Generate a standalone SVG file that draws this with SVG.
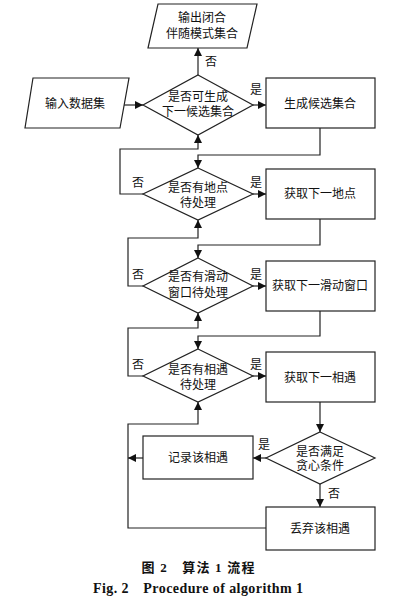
<svg xmlns="http://www.w3.org/2000/svg" width="416" height="606" viewBox="0 0 416 606">
<defs>
<marker id="ah" viewBox="0 0 10 10" refX="10" refY="5" markerWidth="8" markerHeight="8" markerUnits="userSpaceOnUse" orient="auto">
<path d="M0,0 L10,5 L0,10 z" fill="#111"/>
</marker>
<style>
.s{fill:#fff;stroke:#222;stroke-width:1.2}
.c{fill:none;stroke:#222;stroke-width:1.2}
.a{marker-end:url(#ah)}
text{font-family:"Liberation Serif","Noto Sans CJK SC",serif;font-size:12px;fill:#111;text-anchor:middle;dominant-baseline:central}
.lb{font-size:12px}
.cap{font-weight:bold;font-size:13px}
.en{font-size:14px}
</style>
</defs>
<rect width="416" height="606" fill="#fff"/>
<g id="connectors">
<path class="c a" d="M198,75 V48"/>
<path class="c a" d="M124,105 H143"/>
<path class="c a" d="M253,105 H266"/>
<path class="c a" d="M320,128 V155 H198 V168"/>
<path class="c a" d="M143,194 H120 V149 H198 V135"/>
<path class="c a" d="M253,194 H266"/>
<path class="c a" d="M320,219 V245 H198 V258"/>
<path class="c a" d="M143,286 H128 V238 H198 V220"/>
<path class="c a" d="M253,286 H266"/>
<path class="c a" d="M320,311 V336 H198 V349"/>
<path class="c a" d="M143,376 H128 V328 H198 V313"/>
<path class="c a" d="M253,376 H266"/>
<path class="c a" d="M320,402 V432"/>
<path class="c a" d="M266,458 H253"/>
<path class="c a" d="M143,458 H128"/>
<path class="c a" d="M320,484 V507"/>
<path class="c a" d="M266,528 H128 V424 H198 V402"/>
<text class="lb" x="211" y="62">否</text>
<text class="lb" x="256" y="90">是</text>
<text class="lb" x="138" y="183">否</text>
<text class="lb" x="256" y="183">是</text>
<text class="lb" x="138" y="275">否</text>
<text class="lb" x="256" y="275">是</text>
<text class="lb" x="138" y="365">否</text>
<text class="lb" x="256" y="365">是</text>
<text class="lb" x="264" y="445">是</text>
<text class="lb" x="334" y="494">否</text>
</g>
<g id="output">
<polygon class="s" points="158,4 257,4 247,48 148,48"/>
<text x="202" y="18">输出闭合</text>
<text x="202" y="34">伴随模式集合</text>
</g>
<g id="input">
<polygon class="s" points="33,78 129,78 120,128 25,128"/>
<text x="75" y="104">输入数据集</text>
</g>
<g id="d1">
<polygon class="s" points="198,75 253,105 198,135 143,105"/>
<text x="198" y="97">是否可生成</text>
<text x="198" y="112">下一候选集合</text>
</g>
<g id="r1">
<rect class="s" x="266" y="78" width="109" height="50"/>
<text x="320" y="104">生成候选集合</text>
</g>
<g id="d2">
<polygon class="s" points="198,168 253,194 198,220 143,194"/>
<text x="198" y="188">是否有地点</text>
<text x="198" y="203">待处理</text>
</g>
<g id="r2">
<rect class="s" x="266" y="169" width="109" height="50"/>
<text x="320" y="194">获取下一地点</text>
</g>
<g id="d3">
<polygon class="s" points="198,258 253,286 198,313 143,286"/>
<text x="198" y="277">是否有滑动</text>
<text x="198" y="293">窗口待处理</text>
</g>
<g id="r3">
<rect class="s" x="266" y="261" width="109" height="50"/>
<text x="320" y="286">获取下一滑动窗口</text>
</g>
<g id="d4">
<polygon class="s" points="198,349 253,376 198,402 143,376"/>
<text x="198" y="370">是否有相遇</text>
<text x="198" y="385">待处理</text>
</g>
<g id="r4">
<rect class="s" x="266" y="352" width="109" height="50"/>
<text x="320" y="378">获取下一相遇</text>
</g>
<g id="d5">
<polygon class="s" points="320,432 375,458 320,484 266,458"/>
<text x="320" y="452">是否满足</text>
<text x="320" y="466">贪心条件</text>
</g>
<g id="r5">
<rect class="s" x="143" y="436" width="110" height="43"/>
<text x="198" y="458">记录该相遇</text>
</g>
<g id="r6">
<rect class="s" x="266" y="507" width="109" height="43"/>
<text x="320" y="529">丢弃该相遇</text>
</g>
<g id="caption">
<text class="cap" x="198" y="567" textLength="113" lengthAdjust="spacing" xml:space="preserve">图 2　算法 1 流程</text>
<text class="cap en" x="198" y="588" textLength="210" lengthAdjust="spacing" xml:space="preserve">Fig. 2　Procedure of algorithm 1</text>
</g>
</svg>
